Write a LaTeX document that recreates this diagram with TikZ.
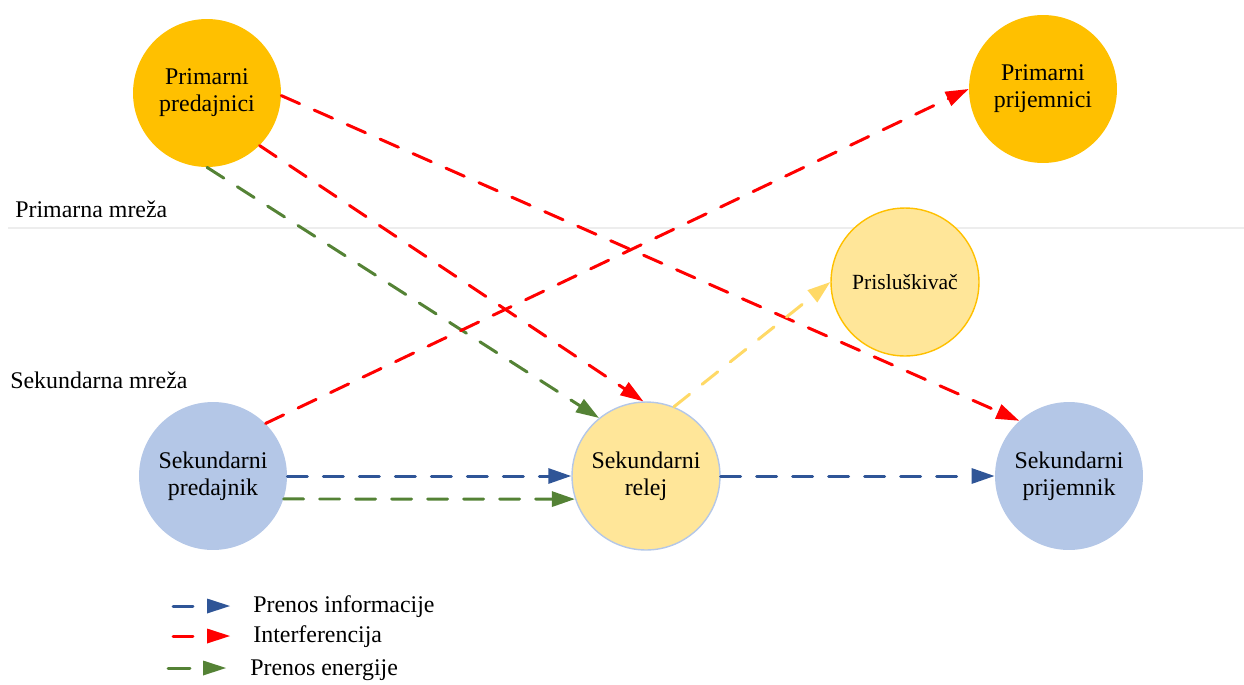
\documentclass[tikz,border=0pt]{standalone}
\usepackage{fontspec}
\setmainfont{Liberation Serif}
\usetikzlibrary{arrows.meta}
\definecolor{gold}{HTML}{FFC000}
\definecolor{paleyellow}{HTML}{FFE699}
\definecolor{paleblue}{HTML}{B4C7E7}
\definecolor{infoblue}{HTML}{2F5597}
\definecolor{intred}{HTML}{FF0000}
\definecolor{energygreen}{HTML}{548235}
\definecolor{tapyellow}{HTML}{FFD966}
\definecolor{sepgray}{HTML}{EDEDED}
\begin{document}
\begin{tikzpicture}[x=0.02cm,y=-0.02cm,
  txt/.style={font=\fontsize{13.6}{15.5}\selectfont},
  station/.style={circle,minimum size=2.96cm,inner sep=0pt,align=center,txt},
  primary/.style={station,fill=gold},
  secondary/.style={station,fill=paleblue},
  relay/.style={station,fill=paleyellow,draw=paleblue,line width=0.8pt},
  tap/.style={station,fill=paleyellow,draw=gold,line width=0.8pt,font=\fontsize{12.3}{14}\selectfont},
  link/.style={line width=1.7pt,line cap=round,dash pattern=on 0.4cm off 0.32cm,
    -{Triangle[length=0.46cm,width=0.3cm]}},
  info/.style={link,infoblue},
  interf/.style={link,intred},
  energy/.style={link,energygreen},
  leak/.style={link,tapyellow},
  keyline/.style={line width=1.7pt,line cap=round},
  keytext/.style={txt,anchor=west,inner sep=0pt}]
\useasboundingbox (0,0) rectangle (1244,684);

% network separator and section labels
\draw[sepgray,line width=0.8pt] (8,228) -- (1244,228);
\node[txt,anchor=base west,inner sep=0pt] (lblp) at (15,217) {Primarna mreža};
\node[txt,anchor=base west,inner sep=0pt] (lbls) at (10,388) {Sekundarna mreža};

% stations
\node[primary] (pp) at (207,93) {Primarni\\predajnici};
\node[primary] (pr) at (1043,89) {Primarni\\prijemnici};
\node[tap] (ev) at (905,282) {Prisluškivač};
\node[secondary] (sp) at (213,476) {Sekundarni\\predajnik};
\node[relay] (rl) at (646,476) {Sekundarni\\relej};
\node[secondary] (sr) at (1069,476) {Sekundarni\\prijemnik};

% links
\draw[interf] (pp.-2) -- (sr.132);
\draw[interf] (pp.-45) -- (rl.92);
\draw[energy] (pp.-90) -- (rl.129);
\draw[interf] (sp.45) -- (pr.180);
\draw[leak] (rl.68) -- (ev.180);
\draw[info] (sp.east) -- (rl.west);
\draw[energy] (sp.-18) -- (rl.198);
\draw[info] (rl.east) -- (sr.west);

% legend
\coordinate (k1a) at (173,606); \coordinate (k1b) at (193,606);
\coordinate (k2a) at (173,636); \coordinate (k2b) at (193,636);
\coordinate (k3a) at (168,668); \coordinate (k3b) at (190,668);
\draw[keyline,infoblue] (k1a) -- (k1b);
\fill[infoblue] (207,598.5) -- (230,606) -- (207,613.5) -- cycle;
\node[keytext] (t1) at (253,607) {Prenos informacije};
\draw[keyline,intred] (k2a) -- (k2b);
\fill[intred] (207,628.5) -- (230,636) -- (207,643.5) -- cycle;
\node[keytext] (t2) at (253,637) {Interferencija};
\draw[keyline,energygreen] (k3a) -- (k3b);
\fill[energygreen] (203,660.5) -- (226,668) -- (203,675.5) -- cycle;
\node[keytext] (t3) at (250,670) {Prenos energije};
\end{tikzpicture}
\end{document}
